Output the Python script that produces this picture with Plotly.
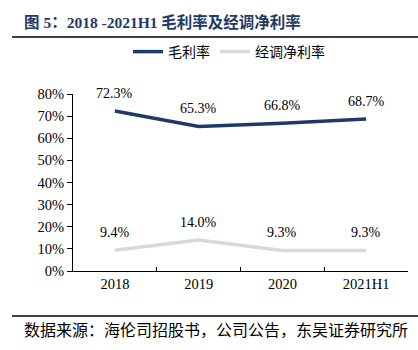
import plotly.graph_objects as go

categories = ["2018", "2019", "2020", "2021H1"]
gross_margin = [72.3, 65.3, 66.8, 68.7]
adj_net_margin = [9.4, 14.0, 9.3, 9.3]
series_names = ["毛利率", "经调净利率"]
title_text = "图 5：2018 -2021H1 毛利率及经调净利率"
source_text = "数据来源：海伦司招股书，公司公告，东吴证券研究所"

NAVY = "#1F3A68"
GRAY = "#D9D9D9"
FONT = "Liberation Serif, Times New Roman, Noto Sans CJK SC, serif"

fig = go.Figure()
fig.add_trace(go.Scatter(x=categories, y=gross_margin, mode="lines", name=series_names[0],
                         line=dict(color=NAVY, width=3.5)))
fig.add_trace(go.Scatter(x=categories, y=adj_net_margin, mode="lines", name=series_names[1],
                         line=dict(color=GRAY, width=3.5)))

annotations = []
for vals in (gross_margin, adj_net_margin):
    for i, v in enumerate(vals):
        annotations.append(dict(x=i, y=v, xref="x", yref="y", text=f"{v:.1f}%",
                                showarrow=False, yshift=18,
                                font=dict(family=FONT, size=14, color="#000000")))

paper_ann = [
    dict(x=22, y=22, text=f"<b>{title_text}</b>", size=15.5, color=NAVY),
    dict(x=22, y=330, text=source_text, size=16, color="#000000"),
]

W, H = 418, 350
L, R, T, B = 73, 10, 94, 79
pw, ph = W - L - R, H - T - B

def px(xp):
    return (xp - L) / pw

def py(yp):
    return (H - B - yp) / ph

for a in paper_ann:
    annotations.append(dict(x=px(a["x"]), y=py(a["y"]), xref="paper", yref="paper",
                            text=a["text"], showarrow=False, xanchor="left", yanchor="middle",
                            font=dict(family=FONT, size=a["size"], color=a["color"])))

shapes = [
    dict(type="line", xref="paper", yref="paper", x0=px(12), x1=px(418), y0=py(37), y1=py(37),
         line=dict(color="#000000", width=1.5)),
    dict(type="line", xref="paper", yref="paper", x0=px(12), x1=px(418), y0=py(316), y1=py(316),
         line=dict(color="#000000", width=1.5)),
]

fig.update_layout(
    width=W, height=H,
    margin=dict(l=L, r=R, t=T, b=B),
    paper_bgcolor="white", plot_bgcolor="white",
    font=dict(family=FONT, size=14, color="#000000"),
    showlegend=True,
    legend=dict(orientation="h", x=px(128), xanchor="left", y=py(52), yanchor="middle",
                font=dict(family=FONT, size=14, color="#000000"), itemwidth=30,
                bgcolor="rgba(0,0,0,0)"),
    annotations=annotations,
    shapes=shapes,
    xaxis=dict(type="category", range=[-0.5, 3.5], showline=True, linecolor="#000000",
               linewidth=1, ticks="inside", tickson="boundaries", ticklen=4,
               tickcolor="#000000", showgrid=False, zeroline=False,
               tickfont=dict(family=FONT, size=14.5)),
    yaxis=dict(range=[0, 80], dtick=10, ticksuffix="%", showline=True, linecolor="#000000",
               linewidth=1, ticks="outside", ticklen=5, tickcolor="#000000",
               showgrid=False, zeroline=False, tickfont=dict(family=FONT, size=14.5)),
)

fig.write_html("out.html")
